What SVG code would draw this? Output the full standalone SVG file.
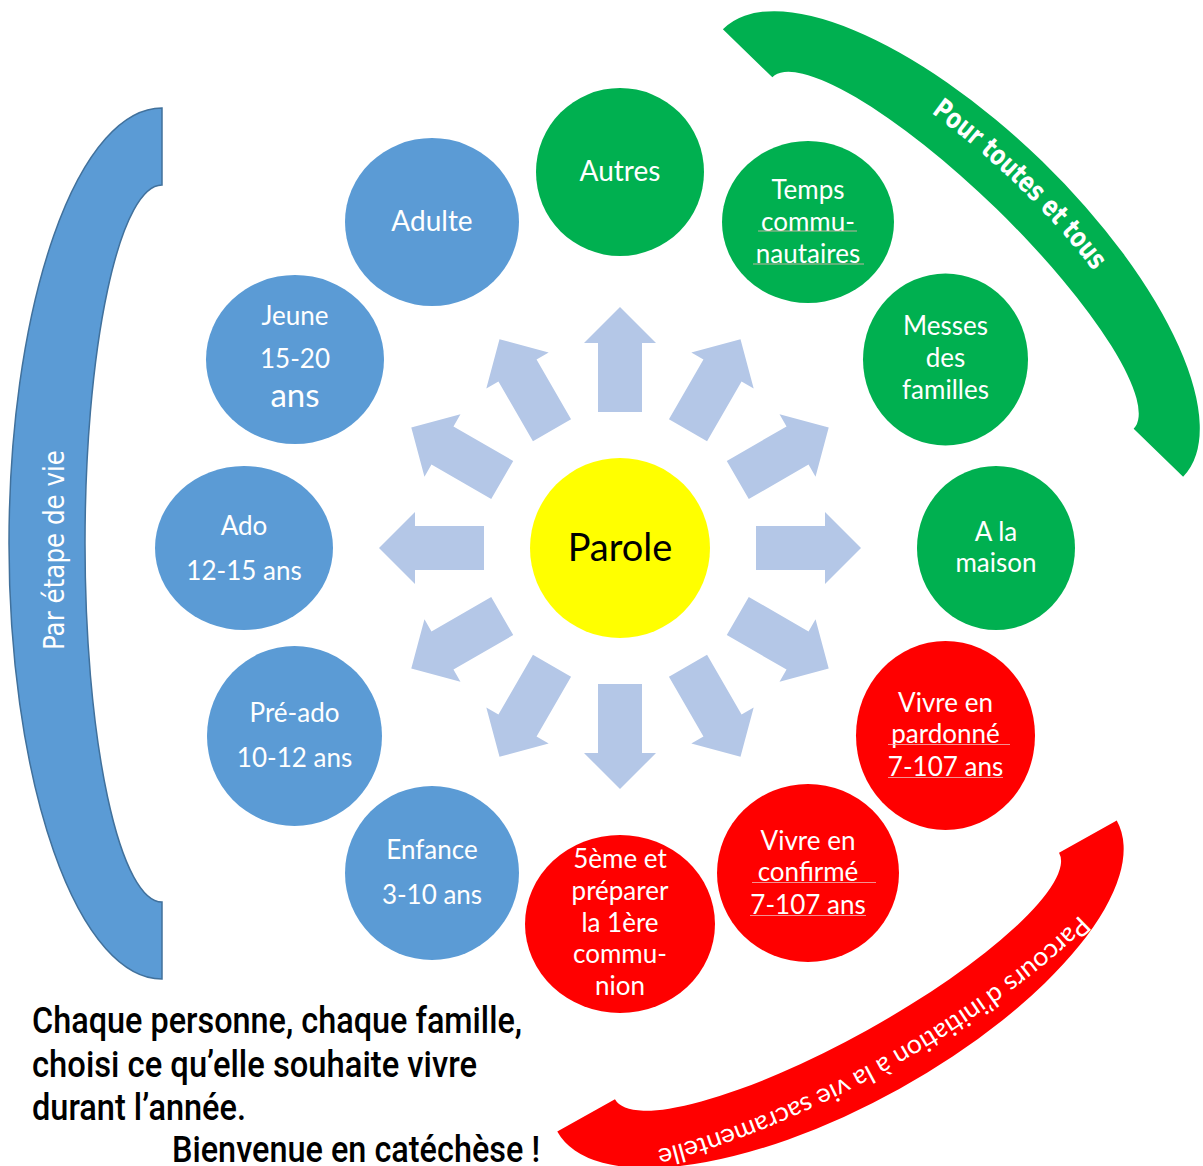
<svg xmlns="http://www.w3.org/2000/svg" xmlns:xlink="http://www.w3.org/1999/xlink" width="1203" height="1166" viewBox="0 0 1203 1166">
<style>
.ct{font-family:Lato,"Open Sans","Liberation Sans",sans-serif;fill:#fff;text-anchor:middle;font-size:26px}
.blue{fill:#5B9BD5}
.green{fill:#00B050}
.red{fill:#FF0000}
.arr{fill:#B4C7E7}
.ul{stroke:#f0b4b4;stroke-width:1;fill:none;opacity:0.8}
.narrow{font-family:"Liberation Sans Narrow","DejaVu Sans Condensed","Liberation Sans",sans-serif}
</style>
<defs>
<path id="arrow" d="M-22,-136 L-22,-205 L-36,-205 L0,-241 L36,-205 L22,-205 L22,-136 Z"/>
<path id="gpath" d="M-286.5,0 A286.5,95 0 0 1 286.5,0"/>
<path id="rpath" d="M340,0 A340,96 0 0 1 -340,0"/>
</defs>
<rect width="1203" height="1166" fill="#fff"/>

<g id="band-blue">
<path transform="translate(162,543.5)" d="M0,-435.5 A153,435.5 0 0 0 0,435.5 L0,358.5 A77,358.5 0 0 1 0,-358.5 Z" fill="#5B9BD5" stroke="#41719C" stroke-width="1.5"/>
<text class="narrow" transform="translate(64,550) rotate(-90)" text-anchor="middle" font-size="29" fill="#fff" textLength="200" lengthAdjust="spacingAndGlyphs">Par étape de vie</text>
</g>

<g id="band-green" transform="translate(953,253) rotate(44.2)">
<path d="M-321,0 A321,128 0 0 1 321,0 L252,0 A252,62 0 0 0 -252,0 Z" fill="#00B050"/>
<text class="narrow" font-size="28" font-weight="bold" fill="#fff" dy="2"><textPath xlink:href="#gpath" href="#gpath" startOffset="50%" text-anchor="middle" textLength="228" lengthAdjust="spacingAndGlyphs">Pour toutes et tous</textPath></text>
</g>

<g id="band-red" transform="translate(837,976) rotate(-29.05)">
<path d="M-320,0 A320,129 0 0 0 320,0 L254,0 A254,62 0 0 1 -254,0 Z" fill="#FF0000"/>
<text font-family="Lato,'Open Sans',sans-serif" font-size="26" fill="#fff" dy="3"><textPath xlink:href="#rpath" href="#rpath" startOffset="50%" text-anchor="middle" textLength="490" lengthAdjust="spacingAndGlyphs">Parcours d’initiation à la vie sacramentelle</textPath></text>
</g>

<g id="connectors">
<use href="#arrow" class="arr" transform="translate(620,548) rotate(0)"/>
<use href="#arrow" class="arr" transform="translate(620,548) rotate(30)"/>
<use href="#arrow" class="arr" transform="translate(620,548) rotate(60)"/>
<use href="#arrow" class="arr" transform="translate(620,548) rotate(90)"/>
<use href="#arrow" class="arr" transform="translate(620,548) rotate(120)"/>
<use href="#arrow" class="arr" transform="translate(620,548) rotate(150)"/>
<use href="#arrow" class="arr" transform="translate(620,548) rotate(180)"/>
<use href="#arrow" class="arr" transform="translate(620,548) rotate(210)"/>
<use href="#arrow" class="arr" transform="translate(620,548) rotate(240)"/>
<use href="#arrow" class="arr" transform="translate(620,548) rotate(270)"/>
<use href="#arrow" class="arr" transform="translate(620,548) rotate(300)"/>
<use href="#arrow" class="arr" transform="translate(620,548) rotate(330)"/>
</g>

<g id="parole">
<circle cx="620" cy="548" r="90" fill="#FFFF00"/>
<text x="620" y="561" font-family="Lato,'Open Sans',sans-serif" font-size="38" fill="#000" text-anchor="middle">Parole</text>
</g>

<g id="autres">
<ellipse class="green" cx="620" cy="172" rx="84" ry="84"/>
<text class="ct" x="620" y="181" style="font-size:28px">Autres</text>
</g>
<g id="temps">
<ellipse class="green" cx="808" cy="222" rx="86" ry="81"/>
<text class="ct" x="808" y="199">Temps</text>
<text class="ct" x="808" y="231">commu-</text>
<text class="ct" x="808" y="263">nautaires</text>
<line class="ul" x1="758" y1="231" x2="857" y2="231"/>
<line class="ul" x1="753" y1="264" x2="864" y2="264"/>
</g>
<g id="messes">
<ellipse class="green" cx="945.5" cy="359.5" rx="82.5" ry="86"/>
<text class="ct" x="945.5" y="335">Messes</text>
<text class="ct" x="945.5" y="367">des</text>
<text class="ct" x="945.5" y="399">familles</text>
</g>
<g id="maison">
<ellipse class="green" cx="996" cy="548" rx="79" ry="82"/>
<text class="ct" x="996" y="541">A la</text>
<text class="ct" x="996" y="572">maison</text>
</g>
<g id="pardonne">
<ellipse class="red" cx="945.5" cy="735.5" rx="89.5" ry="94.5"/>
<text class="ct" x="945.5" y="712">Vivre en</text>
<text class="ct" x="945.5" y="743">pardonné</text>
<text class="ct" x="945.5" y="776">7-107 ans</text>
<line class="ul" x1="888" y1="744.5" x2="1010" y2="744.5"/>
<line class="ul" x1="888" y1="777.5" x2="1003" y2="777.5"/>
</g>
<g id="confirme">
<ellipse class="red" cx="808" cy="873" rx="91" ry="89"/>
<text class="ct" x="808" y="850">Vivre en</text>
<text class="ct" x="808" y="881">confirmé</text>
<text class="ct" x="808" y="914">7-107 ans</text>
<line class="ul" x1="752" y1="882.5" x2="876" y2="882.5"/>
<line class="ul" x1="750" y1="915.5" x2="866" y2="915.5"/>
</g>
<g id="communion">
<ellipse class="red" cx="620" cy="924" rx="95" ry="89"/>
<text class="ct" x="620" y="868">5ème et</text>
<text class="ct" x="620" y="900">préparer</text>
<text class="ct" x="620" y="932">la 1ère</text>
<text class="ct" x="620" y="963">commu-</text>
<text class="ct" x="620" y="995">nion</text>
</g>
<g id="enfance">
<ellipse class="blue" cx="432" cy="873" rx="87" ry="87"/>
<text class="ct" x="432" y="859">Enfance</text>
<text class="ct" x="432" y="904">3-10 ans</text>
</g>
<g id="preado">
<ellipse class="blue" cx="294.5" cy="736" rx="87.5" ry="90"/>
<text class="ct" x="294.5" y="722">Pré-ado</text>
<text class="ct" x="294.5" y="767">10-12 ans</text>
</g>
<g id="ado">
<ellipse class="blue" cx="244" cy="548" rx="89" ry="82"/>
<text class="ct" x="244" y="535">Ado</text>
<text class="ct" x="244" y="580">12-15 ans</text>
</g>
<g id="jeune">
<ellipse class="blue" cx="295" cy="359.5" rx="89" ry="84.5"/>
<text class="ct" x="295" y="325">Jeune</text>
<text class="ct" x="295" y="368">15-20</text>
<text class="ct" x="295" y="407" style="font-size:33px">ans</text>
</g>
<g id="adulte">
<ellipse class="blue" cx="432" cy="222" rx="87" ry="84"/>
<text class="ct" x="432" y="231" style="font-size:28px">Adulte</text>
</g>

<g id="caption" font-family="Roboto,'DejaVu Sans Condensed',sans-serif" font-weight="500" font-size="37" fill="#000">
<text x="32" y="1033" textLength="490" lengthAdjust="spacingAndGlyphs">Chaque personne, chaque famille,</text>
<text x="32" y="1077" textLength="445" lengthAdjust="spacingAndGlyphs">choisi ce qu’elle souhaite vivre</text>
<text x="32" y="1120" textLength="214" lengthAdjust="spacingAndGlyphs">durant l’année.</text>
<text x="172" y="1162" textLength="368" lengthAdjust="spacingAndGlyphs">Bienvenue en catéchèse !</text>
</g>
</svg>
